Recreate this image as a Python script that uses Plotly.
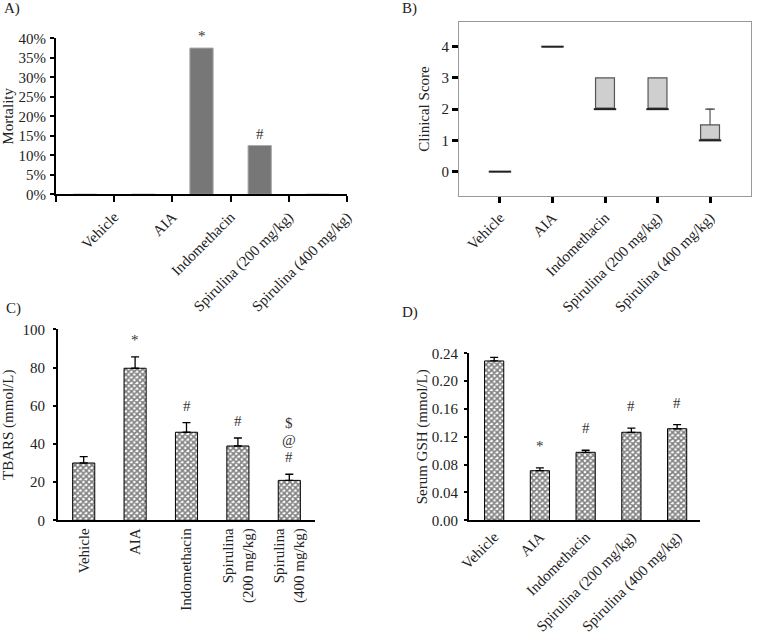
import plotly.graph_objects as go

# ---------------- data ----------------
groups = ["Vehicle", "AIA", "Indomethacin", "Spirulina (200 mg/kg)", "Spirulina (400 mg/kg)"]
groups_c = ["Vehicle", "AIA", "Indomethacin", "Spirulina<br>(200 mg/kg)", "Spirulina<br>(400 mg/kg)"]

# A) mortality (%)
mortality = [0, 0, 37.5, 12.5, 0]
mortality_marks = ["", "", "*", "#", ""]

# B) clinical score box stats
score_q1 = [0, 4, 2, 2, 1]
score_median = [0, 4, 2, 2, 1]
score_q3 = [0, 4, 3, 3, 1.5]
score_low = [0, 4, 2, 2, 1]
score_high = [0, 4, 3, 3, 2]

# C) TBARS
tbars = [30.0, 79.6, 46.1, 38.9, 20.9]
tbars_err = [3.3, 6.0, 5.0, 4.2, 3.2]
tbars_marks = [[], ["*"], ["#"], ["#"], ["#", "@", "$"]]

# D) Serum GSH
gsh = [0.229, 0.0713, 0.0977, 0.1265, 0.1316]
gsh_err = [0.005, 0.004, 0.003, 0.006, 0.006]
gsh_marks = [[], ["*"], ["#"], ["#"], ["#"]]

W, H = 760, 640
FONT = "Liberation Serif"
FS = 15


def dx(a, b):
    return [a / W, b / W]


def dy(top, bottom):
    return [1 - bottom / H, 1 - top / H]


fig = go.Figure()

# ---------- A ----------
xA = [i + 0.5 for i in range(len(groups))]
fig.add_trace(go.Bar(x=xA, y=mortality, width=0.4, marker=dict(color="#777777", line=dict(color="#aaaaaa", width=1)),
                     xaxis="x", yaxis="y", showlegend=False))
for xi, v, m in zip(xA, mortality, mortality_marks):
    if m:
        fig.add_annotation(x=xi, y=v, xref="x", yref="y", text=m, showarrow=False, yanchor="bottom",
                           yshift=2, font=dict(family=FONT, size=FS, color="#333"))

# ---------- B ----------
xB = list(range(len(groups)))
fig.add_trace(go.Box(x=xB, q1=score_q1, median=score_median, q3=score_q3, lowerfence=score_low,
                     upperfence=score_high, width=0.36, fillcolor="#cfcfcf",
                     line=dict(color="#555555", width=1.2), whiskerwidth=0.35,
                     xaxis="x2", yaxis="y2", showlegend=False, hoverinfo="skip"))
fig.add_trace(go.Scatter(x=xB, y=score_median, mode="markers",
                         marker=dict(symbol="line-ew", size=16, line=dict(color="#222", width=2)),
                         xaxis="x2", yaxis="y2", showlegend=False, hoverinfo="skip"))
cap_x = [x for x, h, q in zip(xB, score_high, score_q3) if h > q]
cap_y = [h for h, q in zip(score_high, score_q3) if h > q]
fig.add_trace(go.Scatter(x=cap_x, y=cap_y, mode="markers",
                         marker=dict(symbol="line-ew", size=7, line=dict(color="#555", width=1.2)),
                         xaxis="x2", yaxis="y2", showlegend=False, hoverinfo="skip"))

pattern = dict(shape="x", size=4, solidity=0.65, fgcolor="black", bgcolor="white")

# ---------- C ----------
fig.add_trace(go.Bar(x=groups_c, y=tbars, width=0.43,
                     marker=dict(color="white", pattern=pattern, line=dict(color="black", width=1)),
                     error_y=dict(type="data", array=tbars_err, arrayminus=[0] * 5, symmetric=False,
                                  color="black", thickness=1.3, width=4),
                     xaxis="x3", yaxis="y3", showlegend=False))
for g, v, e, ms in zip(groups_c, tbars, tbars_err, tbars_marks):
    for k, m in enumerate(ms):
        fig.add_annotation(x=g, y=v + e, xref="x3", yref="y3", text=m, showarrow=False, yanchor="middle",
                           yshift=17 + 17 * k, font=dict(family=FONT, size=FS, color="#333"))

# ---------- D ----------
fig.add_trace(go.Bar(x=groups, y=gsh, width=0.42,
                     marker=dict(color="white", pattern=pattern, line=dict(color="black", width=1)),
                     error_y=dict(type="data", array=gsh_err, arrayminus=[0] * 5, symmetric=False,
                                  color="black", thickness=1.3, width=4),
                     xaxis="x4", yaxis="y4", showlegend=False))
for g, v, e, ms in zip(groups, gsh, gsh_err, gsh_marks):
    for k, m in enumerate(ms):
        fig.add_annotation(x=g, y=v + e, xref="x4", yref="y4", text=m, showarrow=False, yanchor="middle",
                           yshift=22 + 17 * k, font=dict(family=FONT, size=FS, color="#333"))

tickfont = dict(family=FONT, size=FS, color="#222")
titlefont = dict(family=FONT, size=FS, color="#222")

fig.update_layout(
    width=W, height=H, margin=dict(l=0, r=0, t=0, b=0),
    paper_bgcolor="white", plot_bgcolor="white",
    font=dict(family=FONT, size=FS, color="#222"),
    # A
    xaxis=dict(domain=dx(56, 347), range=[0, 5], tickvals=[0, 1, 2, 3, 4, 5],
               ticktext=[""] + groups, tickangle=-45, showline=True, linecolor="black", linewidth=2,
               ticks="outside", ticklen=6, tickwidth=2, tickcolor="black", showgrid=False,
               zeroline=False, tickfont=tickfont, anchor="y", automargin=False),
    yaxis=dict(domain=dy(38.3, 194.3), range=[0, 40], tickvals=[0, 5, 10, 15, 20, 25, 30, 35, 40],
               ticktext=[f"{v}%" for v in [0, 5, 10, 15, 20, 25, 30, 35, 40]],
               showline=True, linecolor="black", linewidth=2, ticks="outside", ticklen=4, tickwidth=2,
               tickcolor="black", showgrid=False, zeroline=False, tickfont=tickfont, ticklabelstandoff=1,
               title=dict(text="Mortality", font=titlefont, standoff=4), anchor="x", automargin=False),
    # B
    xaxis2=dict(domain=dx(459, 751), range=[-0.78, 4.78], tickvals=xB, ticktext=groups, tickangle=-45,
                showline=True, mirror=True, linecolor="#999999", linewidth=1, ticks="outside", ticklen=6,
                tickwidth=2.5, tickcolor="black", showgrid=False, zeroline=False, tickfont=tickfont,
                anchor="y2", automargin=False),
    yaxis2=dict(domain=dy(22, 196), range=[-0.78, 4.79], tickvals=[0, 1, 2, 3, 4],
                showline=True, mirror=True, linecolor="#999999", linewidth=1, ticks="outside", ticklen=6,
                tickwidth=2.5, tickcolor="black", showgrid=False, zeroline=False, tickfont=tickfont,
                title=dict(text="Clinical Score", font=titlefont, standoff=8), anchor="x2", automargin=False),
    # C
    xaxis3=dict(domain=dx(58, 315), type="category", range=[-0.5, 4.5], tickangle=-90,
                showline=True, linecolor="black", linewidth=2, ticks="", showgrid=False, zeroline=False,
                tickfont=tickfont, anchor="y3", automargin=False),
    yaxis3=dict(domain=dy(329.3, 520.3), range=[0, 100], tickvals=[0, 20, 40, 60, 80, 100],
                showline=True, linecolor="black", linewidth=2, ticks="outside", ticklen=3, tickwidth=2,
                tickcolor="black", showgrid=False, zeroline=False, tickfont=tickfont, ticklabelstandoff=5,
                title=dict(text="TBARS (mmol/L)", font=titlefont, standoff=10), anchor="x3", automargin=False),
    # D
    xaxis4=dict(domain=dx(469, 700), type="category", range=[-0.55, 4.5], tickangle=-45,
                showline=True, linecolor="black", linewidth=2, ticks="", showgrid=False, zeroline=False,
                tickfont=tickfont, anchor="y4", automargin=False),
    yaxis4=dict(domain=dy(353.3, 520.3), range=[0, 0.24], tickvals=[0, 0.04, 0.08, 0.12, 0.16, 0.20, 0.24],
                tickformat=".2f", showline=True, linecolor="black", linewidth=2, ticks="outside", ticklen=3,
                tickwidth=2, tickcolor="black", showgrid=False, zeroline=False, tickfont=tickfont,
                ticklabelstandoff=3,
                title=dict(text="Serum GSH (mmol/L)", font=titlefont, standoff=0), anchor="x4", automargin=False),
)

for txt, x, y in [("A)", 2, 9), ("B)", 400, 9), ("C)", 4, 308), ("D)", 400, 312)]:
    fig.add_annotation(text=txt, x=x / W, y=1 - y / H, xref="paper", yref="paper", showarrow=False,
                       xanchor="left", yanchor="middle", font=dict(family=FONT, size=FS, color="#222"))

fig.write_html("out.html", config={"displayModeBar": False},
               post_script="document.body.style.margin='0';document.body.style.overflow='hidden';")
